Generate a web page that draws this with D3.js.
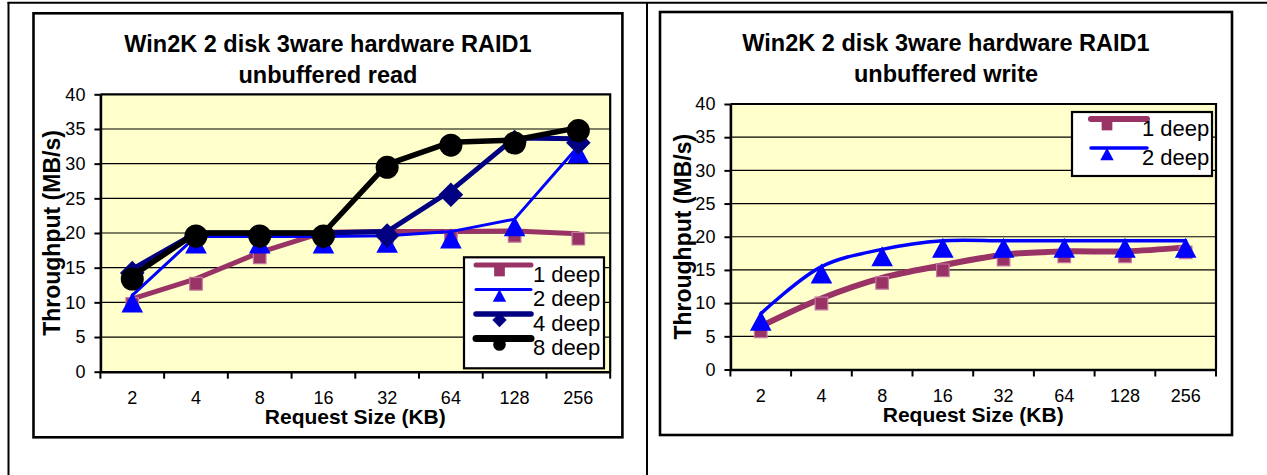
<!DOCTYPE html>
<html><head><meta charset="utf-8">
<script src="https://cdn.jsdelivr.net/npm/d3@7"></script>
<style>
body{margin:0;background:#fff;}
svg{display:block;}
text{font-family:"Liberation Sans",Arial,sans-serif;fill:#000;}
</style>
</head><body>
<svg id="c" width="1267" height="475"></svg>
<script>
// ---------- data ----------
const categories = ["2","4","8","16","32","64","128","256"];
const yTickValues = [0,5,10,15,20,25,30,35,40];
const readSeriesNames = ["1 deep","2 deep","4 deep","8 deep"];
const writeSeriesNames = ["1 deep","2 deep"];
const read1deep = [10.5,13.4,17.2,20.1,20.2,20.2,20.3,19.9];
const read2deep = [11.0,19.5,19.5,19.5,19.6,20.2,22.0,32.5];
const read4deep = [14.8,20.0,20.0,20.0,20.2,26.1,33.7,33.6];
const read8deep = [13.8,20.0,20.0,20.0,29.9,33.1,33.4,35.2];
const write1deep = [6.5,10.7,13.8,15.7,17.3,17.8,17.8,18.4];
const write2deep = [8.4,15.5,18.1,19.4,19.4,19.4,19.4,19.4];
const readTitle = ["Win2K 2 disk 3ware hardware RAID1","unbuffered read"];
const writeTitle = ["Win2K 2 disk 3ware hardware RAID1","unbuffered write"];
const xAxisTitle = "Request Size (KB)";
const yAxisTitle = "Throughput (MB/s)";

// ---------- styles ----------
const seriesStyle = {
  "1 deep": {color:"#993366", symbol:"square", off:5, legendScale:0.85},
  "2 deep": {color:"#0000FF", symbol:"triangle", off:7, legendScale:0.62},
  "4 deep": {color:"#000080", symbol:"diamond", off:4, legendScale:0.58},
  "8 deep": {color:"#000000", symbol:"circle", off:3, legendScale:0.55}
};

function symbolPath(kind, s){
  if(kind==="square"){const h=6.3*s;return `M${-h},${-h}H${h}V${h}H${-h}Z`;}
  if(kind==="triangle"){const w=10.8*s,h=10*s;return `M0,${-h}L${w},${h}L${-w},${h}Z`;}
  if(kind==="diamond"){const h=12.3*s;return `M0,${-h}L${h},0L0,${h}L${-h},0Z`;}
  const r=11.5*s;return `M${r},0A${r},${r} 0 1,1 ${-r},0A${r},${r} 0 1,1 ${r},0Z`;
}

const svg = d3.select("#c");

// outer frame
svg.append("line").attr("x1",7.5).attr("x2",1267).attr("y1",2.8).attr("y2",2.8).attr("stroke","#000").attr("stroke-width",2);
svg.append("line").attr("x1",8.5).attr("x2",8.5).attr("y1",2).attr("y2",475).attr("stroke","#000").attr("stroke-width",2);
svg.append("line").attr("x1",647).attr("x2",647).attr("y1",2).attr("y2",475).attr("stroke","#000").attr("stroke-width",2);

function drawChart(cfg){
  const g = svg.append("g");
  const x = d3.scaleBand().domain(categories).range([cfg.plot[0], cfg.plot[2]]).padding(0);
  const y = d3.scaleLinear().domain([0,40]).range([cfg.plot[3], cfg.plot[1]]);
  const [px0,py0,px1,py1] = cfg.plot;

  g.append("rect").attr("x",cfg.box[0]).attr("y",cfg.box[1])
    .attr("width",cfg.box[2]-cfg.box[0]).attr("height",cfg.box[3]-cfg.box[1])
    .attr("fill","#fff").attr("stroke","#000").attr("stroke-width",2.6);

  g.append("rect").attr("x",px0).attr("y",py0).attr("width",px1-px0).attr("height",py1-py0)
    .attr("fill","#FFFFCC");

  g.append("g").selectAll("line").data(yTickValues.filter(v=>v>0 && v<40)).join("line")
    .attr("x1",px0).attr("x2",px1).attr("y1",d=>y(d)).attr("y2",d=>y(d))
    .attr("stroke","#000").attr("stroke-width",1.2);

  g.append("path").attr("d",`M${px0},${py0}H${px1}V${py1}`).attr("fill","none")
    .attr("stroke","#000").attr("stroke-width",2.2);

  const ya = g.append("g").attr("transform",`translate(${px0},0)`)
    .call(d3.axisLeft(y).tickValues(yTickValues).tickSize(6).tickPadding(9).tickSizeOuter(0));
  ya.select(".domain").attr("stroke","#000").attr("stroke-width",2.6);
  ya.selectAll(".tick line").attr("stroke","#000").attr("stroke-width",2);
  ya.selectAll(".tick text").attr("font-size","18px").attr("font-family","Liberation Sans, Arial, sans-serif").attr("fill","#000");

  const xa = g.append("g").attr("transform",`translate(0,${py1})`)
    .call(d3.axisBottom(x).tickSize(0).tickPadding(20).tickSizeOuter(0));
  xa.select(".domain").attr("stroke","#000").attr("stroke-width",2.6);
  xa.selectAll(".tick text").attr("font-size","18px").attr("font-family","Liberation Sans, Arial, sans-serif").attr("fill","#000");
  const bounds = categories.map(c=>x(c)).concat([x(categories[categories.length-1])+x.bandwidth()]);
  g.append("g").selectAll("line").data(bounds).join("line")
    .attr("x1",d=>d).attr("x2",d=>d).attr("y1",py1).attr("y2",py1+7)
    .attr("stroke","#000").attr("stroke-width",2);

  const lineGen = d3.line().x((d,i)=>x(categories[i])+x.bandwidth()/2).y(d=>y(d));
  if(cfg.smooth) lineGen.curve(d3.curveCatmullRom.alpha(0.5));
  cfg.series.forEach(s=>{
    const st = seriesStyle[s.name];
    g.append("path").datum(s.values).attr("d",lineGen).attr("fill","none")
      .attr("stroke",st.color).attr("stroke-width",s.width).attr("stroke-linejoin","round").attr("stroke-linecap","round");
    g.append("g").selectAll("path").data(s.values).join("path")
      .attr("transform",(d,i)=>`translate(${x(categories[i])+x.bandwidth()/2},${y(d)+st.off})`)
      .attr("d",symbolPath(st.symbol,1))
      .attr("fill",st.color)
      .attr("stroke",st.symbol==="square"?"#c27aa0":"none").attr("stroke-width",1.2);
  });

  cfg.title.forEach((t,i)=>{
    g.append("text").attr("x",(cfg.box[0]+cfg.box[2])/2).attr("y",cfg.titleY[i])
      .attr("text-anchor","middle").attr("font-size","23.5px").attr("font-weight","bold").text(t);
  });
  g.append("text").attr("x",(px0+px1)/2).attr("y",py1+52).attr("text-anchor","middle")
    .attr("font-size","21px").attr("font-weight","bold").text(xAxisTitle);
  g.append("text").attr("transform",`translate(${cfg.yTitleX},${(py0+py1)/2}) rotate(-90)`)
    .attr("text-anchor","middle").attr("dominant-baseline","central")
    .attr("font-size","23px").attr("font-weight","bold").text(yAxisTitle);

  const L = cfg.legend;
  g.append("rect").attr("x",L.box[0]).attr("y",L.box[1]).attr("width",L.box[2]-L.box[0]).attr("height",L.box[3]-L.box[1])
    .attr("fill","#fff").attr("stroke","#000").attr("stroke-width",2.2);
  cfg.series.forEach((s,i)=>{
    const st = seriesStyle[s.name];
    const ly = L.y0 + i*L.dy;
    g.append("line").attr("x1",L.lx[0]).attr("x2",L.lx[1]).attr("y1",ly).attr("y2",ly)
      .attr("stroke",st.color).attr("stroke-width",s.legendWidth).attr("stroke-linecap","round");
    g.append("path").attr("transform",`translate(${L.mx},${ly+6})`).attr("d",symbolPath(st.symbol,st.legendScale))
      .attr("fill",st.color);
    g.append("text").attr("x",L.tx).attr("y",ly+16.5).attr("font-size","22px").text(s.name);
  });
}

drawChart({
  box:[33.5,13.3,622.4,437.3], plot:[100.4,94.3,610.2,371.7],
  title:readTitle, titleY:[51.5,82.5], yTitleX:52, smooth:false,
  series:[
    {name:readSeriesNames[0], values:read1deep, width:5, legendWidth:5},
    {name:readSeriesNames[1], values:read2deep, width:3, legendWidth:3},
    {name:readSeriesNames[2], values:read4deep, width:5, legendWidth:5.5},
    {name:readSeriesNames[3], values:read8deep, width:5.5, legendWidth:7}
  ],
  legend:{box:[464,257.3,604,368.3], lx:[476,531], mx:499.5, tx:533, y0:265, dy:24.5}
});
drawChart({
  box:[660,12,1232,435], plot:[730.4,104,1216,369.5],
  title:writeTitle, titleY:[51,82], yTitleX:683, smooth:true,
  series:[
    {name:writeSeriesNames[0], values:write1deep, width:6, legendWidth:6},
    {name:writeSeriesNames[1], values:write2deep, width:3.5, legendWidth:3.5}
  ],
  legend:{box:[1072,112,1212,176], lx:[1091,1147], mx:1107, tx:1142, y0:119, dy:29}
});
</script>
</body></html>
